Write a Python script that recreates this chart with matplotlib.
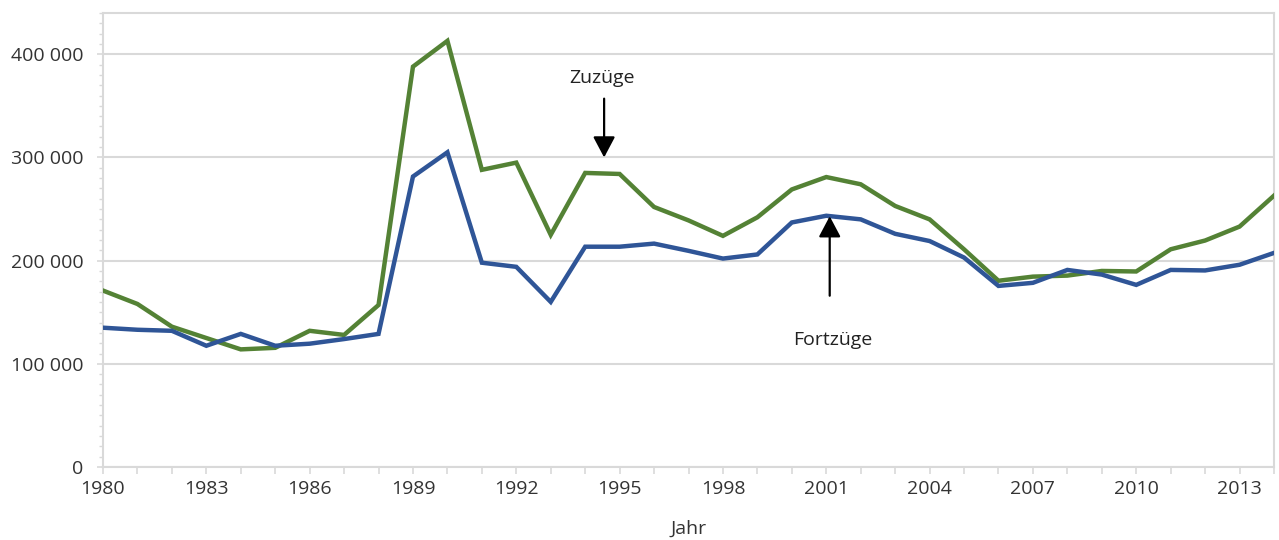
import numpy as np
import matplotlib.pyplot as plt
from matplotlib.ticker import MultipleLocator, FuncFormatter

plt.rcParams['font.family'] = ['Open Sans', 'DejaVu Sans']

# Jahre 1980-2014
jahre = np.arange(1980, 2015)

# Zuzuege (gruen)
zuzuege = [171000, 158000, 136000, 125000, 114000, 115500, 132000, 128000, 157000,
           388000, 413000, 288000, 295000, 225000, 285000, 284000, 252000, 239000,
           224000, 242000, 269000, 281000, 274000, 253000, 240000, 211000, 180500,
           184500, 185500, 190000, 189500, 211000, 219500, 233000, 263000]

# Fortzuege (blau)
fortzuege = [135000, 133000, 132000, 117500, 129000, 117500, 119500, 124000, 129000,
             281500, 305000, 198000, 194000, 160000, 213500, 213500, 216500, 209500,
             202000, 206000, 237000, 243500, 240000, 226000, 219000, 203000, 175500,
             178500, 191000, 186500, 176500, 191000, 190500, 196000, 207500]

gruen = '#548235'
blau = '#2f5597'
grau = '#d9d9d9'
text_col = '#333333'

fig = plt.figure(figsize=(12.79, 5.4), dpi=100)
ax = fig.add_axes([103/1279, 73/540, (1274-103)/1279, (467-13)/540])

ax.plot(jahre, zuzuege, color=gruen, lw=3.2, solid_joinstyle='miter', zorder=3)
ax.plot(jahre, fortzuege, color=blau, lw=3.2, solid_joinstyle='miter', zorder=3)

ax.set_xlim(1980, 2014)
ax.set_ylim(0, 440000)

ax.yaxis.set_major_locator(MultipleLocator(100000))
ax.yaxis.set_minor_locator(MultipleLocator(10000))
ax.xaxis.set_major_locator(MultipleLocator(3))
ax.xaxis.set_minor_locator(MultipleLocator(1))
ax.yaxis.set_major_formatter(FuncFormatter(lambda v, p: f'{int(v):,}'.replace(',', ' ')))

ax.grid(axis='y', which='major', color=grau, lw=1.5, zorder=0)
for s in ax.spines.values():
    s.set_color(grau)
    s.set_linewidth(1.5)

ax.tick_params(axis='both', which='both', color=grau, labelcolor=text_col, labelsize=14)
ax.tick_params(axis='y', which='major', length=4, width=1.2, pad=10)
ax.tick_params(axis='y', which='minor', length=3, width=1)
ax.tick_params(axis='x', which='both', length=5, width=1.2, pad=4)

ax.set_xlabel('Jahr', fontsize=14, color=text_col, labelpad=16)

arrow = dict(arrowstyle='-|>,head_width=0.45,head_length=0.85', color='black', lw=1.6,
             mutation_scale=15, shrinkA=0, shrinkB=0)
ax.annotate('', xy=(1994.55, 300000), xytext=(1994.55, 357000), arrowprops=arrow)
ax.text(1994.5, 377000, 'Zuzüge', ha='center', va='center', fontsize=14, color='#222222')

ax.annotate('', xy=(2001.1, 243000), xytext=(2001.1, 166000), arrowprops=arrow)
ax.text(2001.2, 123000, 'Fortzüge', ha='center', va='center', fontsize=14, color='#222222')

fig.savefig('out.png', dpi=100)
